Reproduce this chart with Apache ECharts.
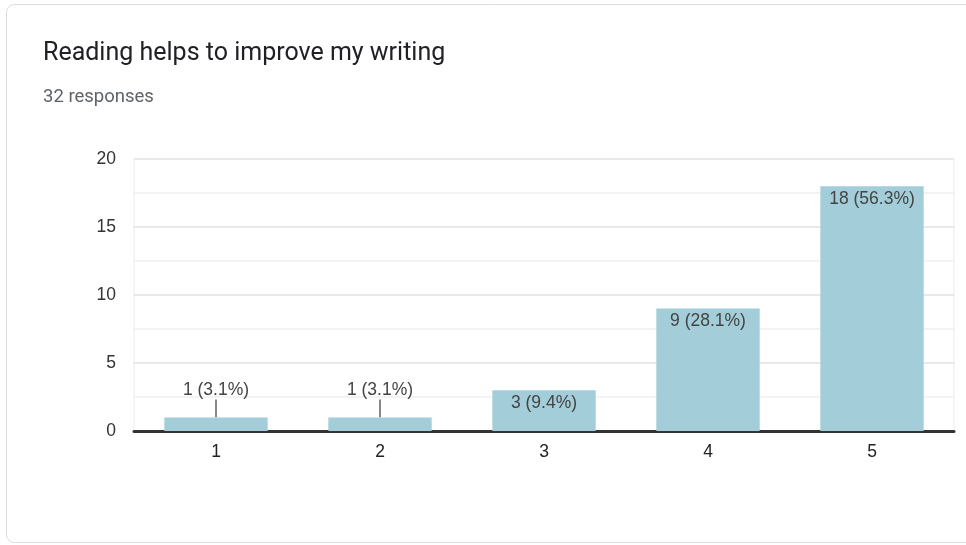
<!DOCTYPE html>
<html>
<head>
<meta charset="utf-8">
<script src="https://cdn.jsdelivr.net/npm/echarts@6/dist/echarts.min.js"></script>
<style>
  html, body { margin: 0; padding: 0; background: #fff; }
  #chart { width: 966px; height: 545px; }
</style>
</head>
<body>
<div id="chart"></div>
<script>
const categories = ["1", "2", "3", "4", "5"];
const counts = [1, 1, 3, 9, 18];
const percents = ["3.1%", "3.1%", "9.4%", "28.1%", "56.3%"];
const totalResponses = 32;

const chart = echarts.init(document.getElementById("chart"));

const barData = counts.map(v => {
  const small = v < 2;
  return {
    value: v,
    label: small
      ? { position: "top", distance: 18 }
      : { position: "insideTop", distance: 4 }
  };
});

chart.setOption({
  animation: false,
  graphic: [
    {
      type: "rect",
      shape: { x: 6.5, y: 4.5, width: 1000, height: 538, r: 8 },
      style: { fill: "#fff", stroke: "#dadce0", lineWidth: 1 },
      z: -10
    },
    {
      type: "text",
      left: 43, top: 41,
      style: { text: "Reading helps to improve my writing", font: "400 25px Roboto", fill: "#202124" }
    },
    {
      type: "text",
      left: 43, top: 88,
      style: { text: totalResponses + " responses", font: "400 18.5px Roboto", fill: "#5f6368" }
    }
  ],
  grid: { left: 134, right: 12, top: 159, bottom: 114, show: true, borderColor: "#ebebeb", borderWidth: 1 },
  xAxis: {
    type: "category",
    data: categories,
    axisLine: { lineStyle: { color: "#333", width: 3 } },
    axisTick: { show: false },
    axisLabel: { color: "#222", fontSize: 17.5, fontFamily: "Liberation Sans", margin: 12 }
  },
  yAxis: {
    type: "value",
    min: 0, max: 20, interval: 5,
    axisLine: { show: false },
    axisTick: { show: false },
    axisLabel: { color: "#333", fontSize: 17.5, fontFamily: "Liberation Sans", margin: 18 },
    splitLine: { lineStyle: { color: "#e8e8e8", width: 2 } },
    minorTick: { show: false, splitNumber: 2 },
    minorSplitLine: { show: true, lineStyle: { color: "#f3f3f3", width: 2 } }
  },
  series: [{
    type: "bar",
    data: barData,
    barWidth: "63%",
    itemStyle: { color: "#a3cdd8" },
    label: {
      show: true,
      color: "#444",
      fontSize: 17.5,
      fontFamily: "Liberation Sans",
      formatter: p => p.value + " (" + percents[p.dataIndex] + ")"
    },
    labelLine: { show: true, lineStyle: { color: "#888", width: 2 } },
    labelLayout: p => (counts[p.dataIndex] < 2 ? { dy: 0 } : {})
  }]
});

window.addEventListener("resize", () => chart.resize());
</script>
</body>
</html>
